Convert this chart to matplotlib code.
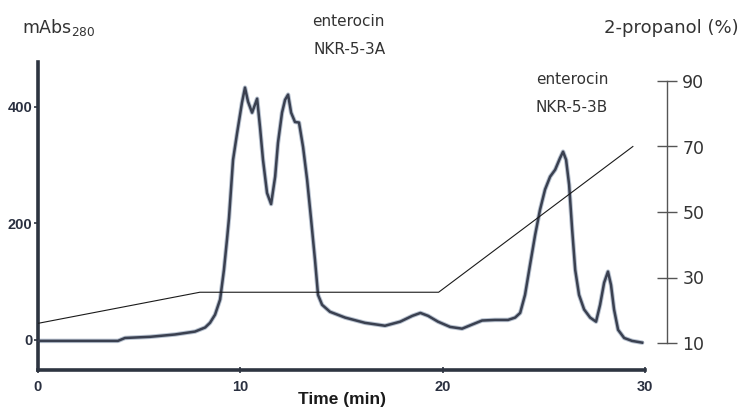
import matplotlib
matplotlib.use("Agg")
import matplotlib.pyplot as plt

# Chromatogram trace (time in min, absorbance mAbs280)
time_min = [0.0, 2.08, 3.95, 4.3, 5.54, 6.77, 7.76, 8.26, 8.5, 8.75, 9.0, 9.19, 9.34,
            9.44, 9.64, 9.84, 10.08, 10.23, 10.38, 10.58, 10.83, 10.97, 11.12, 11.32,
            11.52, 11.72, 11.86, 12.06, 12.21, 12.36, 12.51, 12.70, 12.90, 13.10, 13.30,
            13.49, 13.69, 13.84, 14.04, 14.43, 15.18, 16.16, 17.15, 17.9, 18.5, 18.9,
            19.28, 19.77, 20.37, 20.96, 21.45, 21.95, 22.59, 23.23, 23.58, 23.83, 24.07,
            24.32, 24.57, 24.81, 25.06, 25.31, 25.56, 25.8, 25.95, 26.1, 26.25, 26.4,
            26.55, 26.74, 26.99, 27.29, 27.58, 27.78, 27.98, 28.17, 28.32, 28.47, 28.67,
            28.97, 29.36, 29.86]
absorbance = [-2, -2, -2, 3, 5, 9, 14, 21, 29, 43, 69, 120, 172,
              209, 309, 355, 407, 433, 409, 390, 414, 366, 309, 252,
              233, 280, 338, 390, 412, 421, 390, 374, 373, 331, 275,
              209, 137, 77, 60, 48, 38, 29, 24, 31, 41, 46,
              41, 31, 22, 19, 26, 33, 34, 34, 38, 46, 77,
              129, 180, 223, 258, 280, 292, 312, 323, 309, 266, 189,
              120, 77, 52, 38, 31, 60, 98, 117, 94, 52, 17,
              3, -2, -5]

# 2-propanol gradient (%)
grad_time = [0.0, 8.0, 19.8, 29.4]
grad_pct = [16, 25.5, 25.5, 70]

left_ticks = [0, 200, 400]
bottom_ticks = [0, 10, 20, 30]
right_ticks = [10, 30, 50, 70, 90]

W, H = 740, 415
fig = plt.figure(figsize=(W / 100, H / 100), dpi=100)

x0, x1 = 38, 645
y_bot, y_top = 370, 62
ax = fig.add_axes([x0 / W, 1 - y_bot / H, (x1 - x0) / W, (y_bot - y_top) / H])

spine_col = "#2d3440"
trace_col = "#3a4050"
arial = ["Liberation Sans", "DejaVu Sans"]

ax.plot(time_min, absorbance, color="#b8c2d0", lw=3.2, solid_joinstyle="round",
        solid_capstyle="round", zorder=2)
ax.plot(time_min, absorbance, color=trace_col, lw=1.8, solid_joinstyle="round",
        zorder=3)

ax.set_xlim(0, 30)
ax.set_ylim(-52, 477)
for s in ("top", "right"):
    ax.spines[s].set_visible(False)
for s in ("left", "bottom"):
    ax.spines[s].set_linewidth(2.6)
    ax.spines[s].set_color(spine_col)
ax.set_xticks(bottom_ticks)
ax.set_yticks(left_ticks)
ax.tick_params(axis="both", colors=spine_col, width=1.2, length=3, labelcolor="#2a3040")
ax.tick_params(axis="x", direction="inout", length=5, pad=5)
ax.tick_params(axis="y", pad=1)
for lab in ax.get_xticklabels() + ax.get_yticklabels():
    lab.set_fontfamily(arial)
    lab.set_fontweight("bold")
    lab.set_fontsize(10.5)
ax.set_xlabel("Time (min)", fontsize=12.5, fontweight="bold", color="#1a1a1a",
              family=arial, labelpad=-2)

# right axis for gradient
ax2 = ax.twinx()
ax2.set_ylim(10 - (y_bot - 343) / 3.275, 10 + (343 - y_top) / 3.275)
ax2.plot(grad_time, grad_pct, color="#1a1a1a", lw=0.8, zorder=1)
for s in ("top", "left", "bottom"):
    ax2.spines[s].set_visible(False)
ax2.spines["right"].set_position(("axes", (667 - x0) / (x1 - x0)))
ax2.spines["right"].set_bounds(10, 90)
ax2.spines["right"].set_color("#555555")
ax2.spines["right"].set_linewidth(1.0)
ax2.set_yticks(right_ticks)
ax2.tick_params(axis="y", direction="inout", length=14, width=1.0, colors="#555555",
                labelcolor="#333333", labelsize=12.5, pad=4)

# annotations
txt_col = "#333333"
fig.text(22 / W, 1 - 33 / H, "mAbs$_{280}$", fontsize=12.5, color=txt_col,
         va="baseline", ha="left")
fig.text(348 / W, 1 - 22 / H, "enterocin", fontsize=11, color=txt_col,
         ha="center", va="center")
fig.text(350 / W, 1 - 50 / H, "NKR-5-3A", fontsize=11, color=txt_col,
         ha="center", va="center")
fig.text(572 / W, 1 - 80 / H, "enterocin", fontsize=11, color=txt_col,
         ha="center", va="center")
fig.text(572 / W, 1 - 107 / H, "NKR-5-3B", fontsize=11, color=txt_col,
         ha="center", va="center")
fig.text(739 / W, 1 - 28 / H, "2-propanol (%)", fontsize=13, color=txt_col,
         ha="right", va="center")

fig.savefig("out.png", dpi=100)
